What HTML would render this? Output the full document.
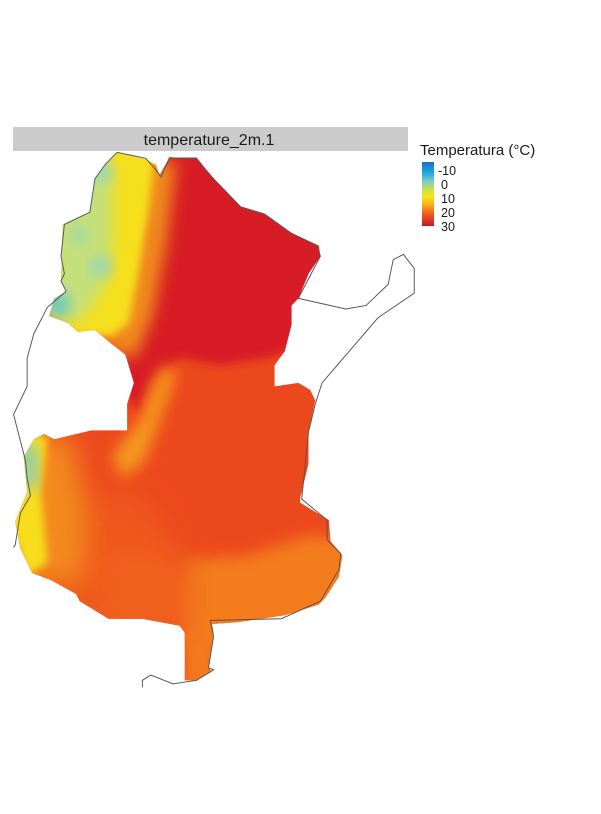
<!DOCTYPE html>
<html><head><meta charset="utf-8"><style>
html,body{margin:0;padding:0;background:#fff;width:601px;height:814px;overflow:hidden;}
svg{display:block;font-family:"Liberation Sans",sans-serif;}
</style></head><body>
<svg width="601" height="814" viewBox="0 0 601 814">
<defs>
<filter id="b6" x="-30%" y="-30%" width="160%" height="160%"><feGaussianBlur stdDeviation="22"/></filter>
<filter id="b9" x="-30%" y="-30%" width="160%" height="160%"><feGaussianBlur stdDeviation="40"/></filter>
<filter id="b3" x="-20%" y="-20%" width="140%" height="140%"><feGaussianBlur stdDeviation="12"/></filter>
<clipPath id="clip"><polygon transform="translate(0,140) scale(0.339,0.352)" points="345,35 430,55 460,70 470,100 500,50 580,50 630,110 710,190 780,210 850,260 940,300 945,330 910,380 880,450 860,470 860,525 840,600 810,640 810,700 880,690 915,710 930,740 910,830 910,920 885,1020 885,1030 970,1080 975,1140 1010,1180 1000,1240 960,1300 940,1320 840,1350 700,1370 625,1375 630,1400 615,1500 625,1510 580,1535 545,1535 545,1400 530,1380 420,1360 320,1360 235,1310 225,1290 150,1250 95,1230 60,1160 45,1085 80,1000 70,900 100,850 130,835 160,850 270,825 375,825 375,750 395,690 370,610 330,580 280,540 230,545 200,520 145,500 160,450 195,430 180,400 185,240 265,205 280,110 310,70"/></clipPath>
<linearGradient id="lg" x1="0" y1="0" x2="0" y2="1">
<stop offset="0" stop-color="#1e6cc2"/><stop offset="0.15" stop-color="#16a3e0"/><stop offset="0.3" stop-color="#7ccbc4"/><stop offset="0.45" stop-color="#d8e23a"/><stop offset="0.55" stop-color="#f8e21a"/><stop offset="0.68" stop-color="#fba619"/><stop offset="0.8" stop-color="#f0621d"/><stop offset="0.9" stop-color="#e03a22"/><stop offset="1" stop-color="#b81f2a"/>
</linearGradient>
</defs>
<rect x="13" y="127" width="395" height="24" fill="#cccccc"/>
<text x="209" y="145" font-size="16" text-anchor="middle" fill="#1a1a1a">temperature_2m.1</text>

<g clip-path="url(#clip)">
<g transform="translate(0,140) scale(0.339,0.352)">
<rect x="0" y="0" width="1260" height="1600" fill="#ec481e"/>
<polygon filter="url(#b9)" fill="#ef561d" points="0,1000 400,1000 500,1100 480,1400 0,1400"/>
<polygon filter="url(#b6)" fill="#f47b1b" points="546,1193 737,1179 914,1122 1060,1140 1060,1450 560,1450 500,1300"/>
<polygon filter="url(#b6)" fill="#f47a1b" points="540,1380 640,1380 640,1560 540,1560"/>
<polygon filter="url(#b9)" fill="#ef601d" points="300,1150 560,1180 560,1400 300,1400"/>
<polygon filter="url(#b3)" fill="#d81f27" points="470,20 1020,20 1020,560 870,600 780,620 650,640 530,620 440,690 410,780 370,720 360,560 430,420 460,200"/>
<polygon filter="url(#b6)" fill="#f59a1a" points="480,640 520,660 470,800 420,920 360,960 330,900 410,800"/>
<polygon filter="url(#b9)" fill="#f38a1b" points="40,830 220,850 260,1100 240,1260 100,1260 30,1150"/>
<polygon filter="url(#b3)" fill="#f7de1c" points="40,830 140,840 120,1000 140,1200 80,1240 30,1100"/>
<polygon filter="url(#b6)" fill="#7fcac8" points="60,860 110,870 110,990 70,990"/>
<polygon filter="url(#b6)" fill="#f08a1c" points="420,60 520,60 490,300 450,500 400,620 310,590 380,420 420,250"/>
<polygon filter="url(#b3)" fill="#f6df1d" points="150,20 460,20 440,200 410,380 380,520 330,560 230,560 140,500"/>
<polygon filter="url(#b6)" fill="#c4e07a" points="170,100 330,60 330,300 300,430 230,520 150,480"/>
<circle filter="url(#b6)" cx="300" cy="90" r="30" fill="#8fd3c8"/>
<circle filter="url(#b6)" cx="300" cy="360" r="30" fill="#8fd3c8"/>
<circle filter="url(#b6)" cx="170" cy="470" r="35" fill="#5cc3d0"/>
<circle filter="url(#b6)" cx="230" cy="270" r="25" fill="#9ad6b0"/>
</g></g>

<polyline transform="translate(0,140) scale(0.339,0.352)" fill="none" stroke="#555" stroke-width="2.8" points="345,35 430,52 460,85 475,105 500,50 580,55 630,110 710,190 780,210 860,265 935,300 945,330 880,450 1020,480 1080,470 1145,410 1160,340 1190,325 1222,365 1222,435 1115,505 950,690 930,750 910,830 890,1020 965,1080 965,1135 1005,1175 1000,1220 945,1310 830,1360 620,1365 630,1410 615,1500 630,1505 580,1535 510,1545 445,1520 420,1535 420,1555"/>
<polyline transform="translate(0,140) scale(0.339,0.352)" fill="none" stroke="#555" stroke-width="2.8" points="345,35 310,70 280,110 265,205 190,240 180,330 190,380 180,400 195,430 140,475 100,550 80,620 80,700 40,780 75,910 80,960 90,1010 60,1060 45,1150 40,1158"/>

<text x="420" y="155" font-size="15" fill="#1a1a1a">Temperatura (°C)</text>
<rect x="422" y="162" width="12" height="64" fill="url(#lg)"/>
<g font-size="12.5" fill="#1a1a1a">
<text x="438" y="175">-10</text>
<text x="441" y="189">0</text>
<text x="441" y="203">10</text>
<text x="441" y="217">20</text>
<text x="441" y="231">30</text>
</g>
</svg>
</body></html>
